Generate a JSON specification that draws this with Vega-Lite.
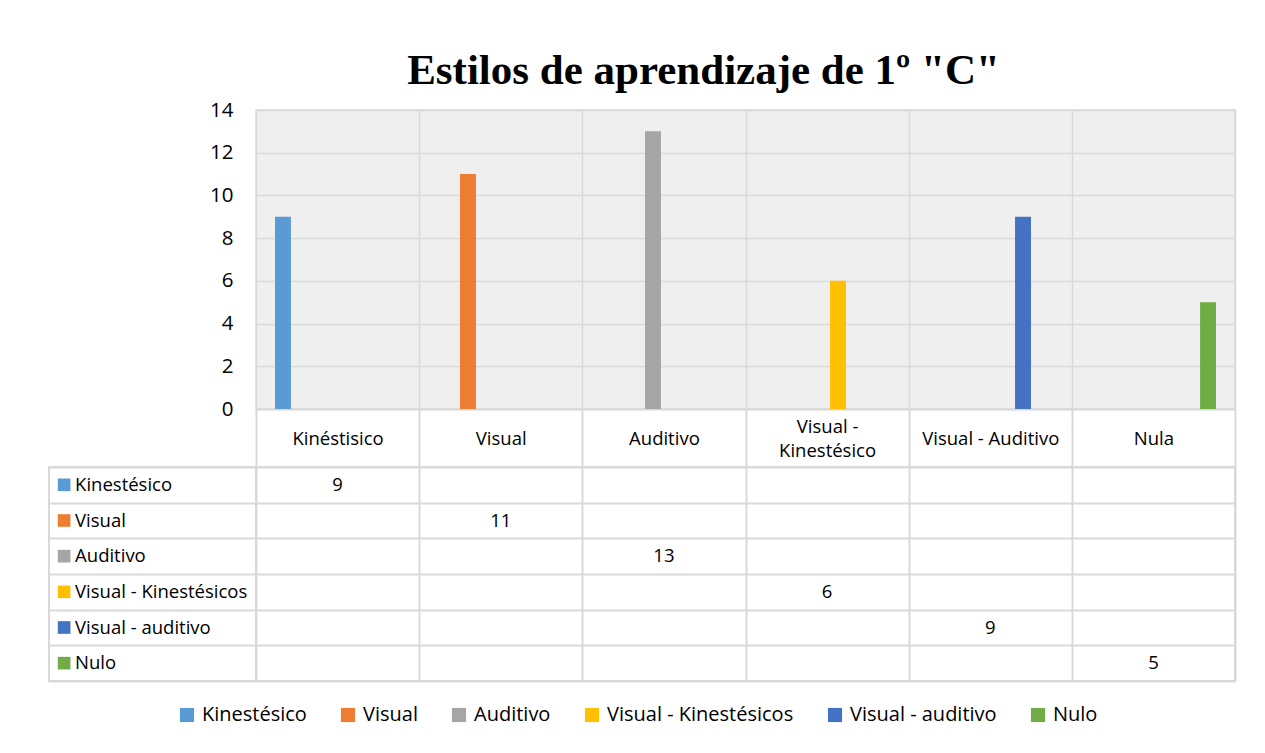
{
  "$schema": "https://vega.github.io/schema/vega-lite/v6.json",
  "padding": {"left": 48, "top": 49, "right": 31, "bottom": 5},
  "background": "white",
  "datasets": {
    "d": [
      {"categoria": "Kinéstisico", "serie": "Kinestésico", "valor": 9},
      {"categoria": "Visual", "serie": "Visual", "valor": 11},
      {"categoria": "Auditivo", "serie": "Auditivo", "valor": 13},
      {"categoria": "Visual - Kinestésico", "serie": "Visual - Kinestésicos", "valor": 6},
      {"categoria": "Visual - Auditivo", "serie": "Visual - auditivo", "valor": 9},
      {"categoria": "Nula", "serie": "Nulo", "valor": 5}
    ]
  },
  "columns": 2,
  "spacing": {"row": 58, "column": 0},
  "bounds": "flush",
  "align": "each",
  "concat": [
    {
      "width": 207,
      "height": 299,
      "data": {"values": [{}]},
      "mark": {"type": "point", "opacity": 0},
      "encoding": {},
      "view": {"stroke": null}
    },
    {
      "width": 979,
      "height": 299,
      "data": {"name": "d"},
      "title": {
        "text": "Estilos de aprendizaje de 1º \"C\"",
        "font": "Liberation Serif",
        "fontSize": 43,
        "fontWeight": "bold",
        "color": "#000000",
        "anchor": "middle",
        "dx": -42,
        "offset": 7
      },
      "view": {"fill": "#efefef", "stroke": "#d9d9d9", "strokeWidth": 1.5},
      "mark": {"type": "bar"},
      "encoding": {
        "x": {
          "field": "categoria",
          "type": "nominal",
          "scale": {"domain": ["Kinéstisico", "Visual", "Auditivo", "Visual - Kinestésico", "Visual - Auditivo", "Nula"], "paddingInner": 0, "paddingOuter": 0},
          "axis": {
            "title": null,
            "tickBand": "extent",
            "grid": true,
            "gridColor": "#d9d9d9",
            "gridWidth": 1.5,
            "domainColor": "#d9d9d9",
            "domainWidth": 2,
            "tickColor": "#d9d9d9",
            "tickWidth": 2,
            "tickSize": 58,
            "labelPadding": {"condition": {"test": "datum.value == 'Visual - Kinestésico'", "value": -41}, "value": -29},
            "labelBaseline": "middle",
            "labelAngle": 0,
            "labelFont": "Open Sans",
            "labelFontSize": 18.5,
            "labelColor": "#000000",
            "labelLineHeight": 24,
            "labelLimit": 0,
            "labelExpr": "datum.value == 'Visual - Kinestésico' ? ['Visual -', 'Kinestésico'] : datum.label"
          }
        },
        "xOffset": {
          "field": "serie",
          "type": "nominal",
          "scale": {"domain": ["Kinestésico", "Visual", "Auditivo", "Visual - Kinestésicos", "Visual - auditivo", "Nulo"], "paddingInner": 0.27, "paddingOuter": 0.87}
        },
        "y": {
          "field": "valor",
          "type": "quantitative",
          "scale": {"domain": [0, 14]},
          "axis": {
            "title": null,
            "values": [0, 2, 4, 6, 8, 10, 12, 14],
            "grid": true,
            "gridColor": "#d9d9d9",
            "gridWidth": 1.5,
            "ticks": false,
            "domain": false,
            "labelPadding": 23,
            "labelFont": "Open Sans",
            "labelFontSize": 20.5,
            "labelColor": "#000000"
          }
        },
        "color": {
          "field": "serie",
          "type": "nominal",
          "scale": {
            "domain": ["Kinestésico", "Visual", "Auditivo", "Visual - Kinestésicos", "Visual - auditivo", "Nulo"],
            "range": ["#5B9BD5", "#ED7D31", "#A5A5A5", "#FFC000", "#4472C4", "#70AD47"]
          },
          "legend": {
            "orient": "none",
            "legendX": 128,
            "legendY": 595,
            "direction": "horizontal",
            "title": null
          }
        }
      }
    },
    {
      "width": 207,
      "height": 214,
      "data": {"name": "d"},
      "view": {"stroke": "#d9d9d9", "strokeWidth": 2},
      "encoding": {
        "y": {
          "field": "serie",
          "type": "nominal",
          "scale": {"type": "band", "domain": ["Kinestésico", "Visual", "Auditivo", "Visual - Kinestésicos", "Visual - auditivo", "Nulo"], "paddingInner": 0, "paddingOuter": 0},
          "axis": {"title": null, "labels": false, "ticks": false, "domain": false, "grid": true, "tickBand": "extent", "gridColor": "#d9d9d9", "gridWidth": 2}
        }
      },
      "layer": [
        {
          "mark": {"type": "point", "shape": "square", "filled": true, "size": 160, "opacity": 1},
          "encoding": {
            "x": {"datum": 0.073, "type": "quantitative", "scale": {"domain": [0, 1]}, "axis": null},
            "color": {"field": "serie", "type": "nominal"}
          }
        },
        {
          "mark": {"type": "text", "align": "left", "baseline": "middle", "font": "Open Sans", "fontSize": 18.5, "color": "#000000"},
          "encoding": {
            "x": {"datum": 0.126, "type": "quantitative"},
            "text": {"field": "serie"}
          }
        }
      ]
    },
    {
      "width": 979,
      "height": 214,
      "data": {"name": "d"},
      "view": {"stroke": "#d9d9d9", "strokeWidth": 2},
      "mark": {"type": "text", "font": "Open Sans", "fontSize": 18.5, "color": "#000000", "baseline": "middle", "align": "center"},
      "encoding": {
        "x": {
          "field": "categoria",
          "type": "nominal",
          "bandPosition": 0.5,
          "scale": {"type": "band", "domain": ["Kinéstisico", "Visual", "Auditivo", "Visual - Kinestésico", "Visual - Auditivo", "Nula"], "paddingInner": 0, "paddingOuter": 0},
          "axis": {"title": null, "labels": false, "ticks": false, "domain": false, "grid": true, "tickBand": "extent", "gridColor": "#d9d9d9", "gridWidth": 2}
        },
        "y": {
          "field": "serie",
          "type": "nominal",
          "bandPosition": 0.5,
          "scale": {"type": "band", "domain": ["Kinestésico", "Visual", "Auditivo", "Visual - Kinestésicos", "Visual - auditivo", "Nulo"], "paddingInner": 0, "paddingOuter": 0},
          "axis": {"title": null, "labels": false, "ticks": false, "domain": false, "grid": true, "tickBand": "extent", "gridColor": "#d9d9d9", "gridWidth": 2}
        },
        "text": {"field": "valor", "type": "quantitative"}
      }
    }
  ],
  "resolve": {"scale": {"x": "independent", "y": "independent"}},
  "config": {
    "view": {"stroke": null},
    "legend": {
      "symbolType": "square",
      "symbolSize": 200,
      "symbolStrokeWidth": 0,
      "labelFont": "Open Sans",
      "labelFontSize": 20,
      "labelColor": "#000000",
      "labelLimit": 500,
      "labelOffset": 5,
      "columnPadding": 31
    }
  }
}
